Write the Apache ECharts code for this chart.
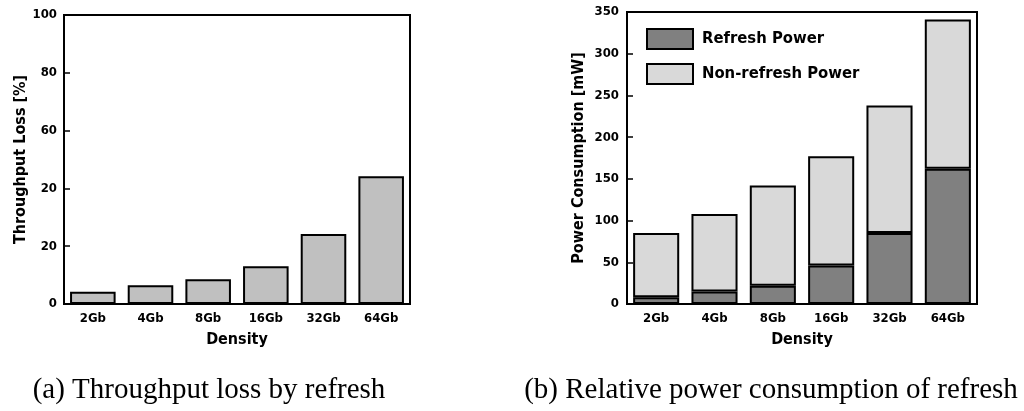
<!DOCTYPE html>
<html>
<head>
<meta charset="utf-8">
<script src="https://cdn.jsdelivr.net/npm/echarts@6/dist/echarts.min.js"></script>
<style>
html,body{margin:0;padding:0;background:#fff;}
#c{width:1024px;height:411px;}
</style>
</head>
<body>
<div id="c"></div>
<script>
const densities = ['2Gb', '4Gb', '8Gb', '16Gb', '32Gb', '64Gb'];
const throughputLoss = [4.2, 6.5, 8.6, 13.1, 24.2, 44.2];
const leftTickLabels = ['0', '20', '20', '60', '80', '100'];
const refreshPower = [8, 15, 22, 46, 85, 162];
const nonRefreshPower = [77, 93, 120, 131, 153, 179];
const seriesNames = ['Refresh Power', 'Non-refresh Power'];
const captions = ['(a) Throughput loss by refresh', '(b) Relative power consumption of refresh'];

const FONT = '"DejaVu Sans Condensed", sans-serif';
const lab = {fontFamily: FONT, fontWeight: 'bold', fontSize: 13, color: '#000'};
const nameStyle = {fontFamily: FONT, fontWeight: 'bold', fontSize: 16, color: '#000'};
const axLine = {show: true, lineStyle: {color: '#000', width: 2}};

const chart = echarts.init(document.getElementById('c'), null, {renderer: 'canvas'});
chart.setOption({
  animation: false,
  backgroundColor: '#fff',
  grid: [
    {left: 64, right: 614, top: 15, bottom: 107, show: true, borderColor: '#000', borderWidth: 2, containLabel: false},
    {left: 627, right: 47, top: 12, bottom: 107, show: true, borderColor: '#000', borderWidth: 2, containLabel: false}
  ],
  legend: {
    data: seriesNames,
    orient: 'vertical',
    left: 641,
    top: 23,
    icon: 'rect',
    itemWidth: 46,
    itemHeight: 20,
    itemGap: 13,
    textStyle: {fontFamily: FONT, fontWeight: 'bold', fontSize: 16.5, color: '#000', padding: [0, 0, 0, 4]}
  },
  xAxis: [
    {type: 'category', gridIndex: 0, data: densities, axisLine: axLine, axisTick: {show: false},
     axisLabel: Object.assign({margin: 8}, lab), name: 'Density', nameLocation: 'middle', nameGap: 28, nameTextStyle: nameStyle},
    {type: 'category', gridIndex: 1, data: densities, axisLine: axLine, axisTick: {show: false},
     axisLabel: Object.assign({margin: 8}, lab), name: 'Density', nameLocation: 'middle', nameGap: 28, nameTextStyle: nameStyle}
  ],
  yAxis: [
    {type: 'value', gridIndex: 0, min: 0, max: 100, interval: 20, axisLine: axLine,
     axisTick: {show: true, inside: true, length: 6, lineStyle: {color: '#000', width: 1.5}},
     splitLine: {show: false},
     axisLabel: Object.assign({margin: 7, formatter: function (v, i) { return leftTickLabels[i]; }}, lab),
     name: 'Throughput Loss [%]', nameLocation: 'middle', nameGap: 31, nameTextStyle: nameStyle},
    {type: 'value', gridIndex: 1, min: 0, max: 350, interval: 50, axisLine: axLine,
     axisTick: {show: true, inside: true, length: 6, lineStyle: {color: '#000', width: 1.5}},
     splitLine: {show: false},
     axisLabel: Object.assign({margin: 8}, lab),
     name: 'Power Consumption [mW]', nameLocation: 'middle', nameGap: 40, nameTextStyle: nameStyle}
  ],
  series: [
    {type: 'bar', name: 'Throughput Loss', xAxisIndex: 0, yAxisIndex: 0, data: throughputLoss,
     barCategoryGap: '21%', itemStyle: {color: '#c0c0c0', borderColor: '#000', borderWidth: 2}},
    {type: 'bar', name: seriesNames[0], xAxisIndex: 1, yAxisIndex: 1, stack: 'p', data: refreshPower,
     barCategoryGap: '21%', itemStyle: {color: '#808080', borderColor: '#000', borderWidth: 2}},
    {type: 'bar', name: seriesNames[1], xAxisIndex: 1, yAxisIndex: 1, stack: 'p', data: nonRefreshPower,
     barCategoryGap: '21%', itemStyle: {color: '#d9d9d9', borderColor: '#000', borderWidth: 2}}
  ],
  graphic: [
    {type: 'text', x: 209, y: 390, style: {text: captions[0], fontFamily: 'Liberation Serif', fontSize: 29, fill: '#000', align: 'center', verticalAlign: 'middle'}},
    {type: 'text', x: 771, y: 390, style: {text: captions[1], fontFamily: 'Liberation Serif', fontSize: 29, fill: '#000', align: 'center', verticalAlign: 'middle'}}
  ]
});
</script>
</body>
</html>
